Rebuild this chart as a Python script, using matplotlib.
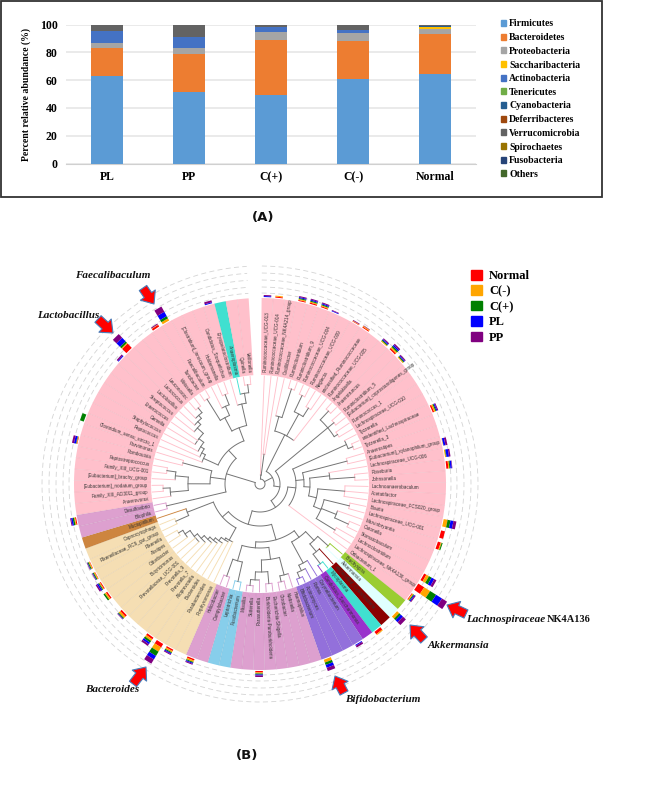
import numpy as np
import matplotlib
matplotlib.use("Agg")
import matplotlib.pyplot as plt
from matplotlib.patches import Patch, Rectangle

# ---------------- data: panel A ----------------
GROUPS_A = ["PL", "PP", "C(+)", "C(-)", "Normal"]
PHYLA = ["Firmicutes", "Bacteroidetes", "Proteobacteria", "Saccharibacteria", "Actinobacteria",
         "Tenericutes", "Cyanobacteria", "Deferribacteres", "Verrucomicrobia", "Spirochaetes",
         "Fusobacteria", "Others"]
PHYLA_COLORS = ["#5B9BD5", "#ED7D31", "#A5A5A5", "#FFC000", "#4472C4", "#70AD47",
                "#255E91", "#9E480E", "#636363", "#997300", "#264478", "#43682B"]
FIRMICUTES = [63.0, 51.5, 49.5, 60.6, 64.2]
BACTEROIDETES = [20.0, 27.1, 39.7, 27.4, 28.8]
PROTEOBACTERIA = [3.5, 4.6, 5.5, 5.8, 4.1]
SACCHARIBACTERIA = [0.0, 0.0, 0.3, 0.2, 0.9]
ACTINOBACTERIA = [8.7, 8.1, 3.3, 2.2, 0.2]
TENERICUTES = [0.0, 0.0, 0.0, 0.0, 0.2]
CYANOBACTERIA = [0.0, 0.0, 0.0, 0.0, 1.0]
DEFERRIBACTERES = [0.0, 0.0, 0.0, 0.0, 0.0]
VERRUCOMICROBIA = [4.5, 8.2, 1.5, 3.6, 0.2]
SPIROCHAETES = [0.0, 0.0, 0.0, 0.0, 0.0]
FUSOBACTERIA = [0.0, 0.0, 0.0, 0.0, 0.0]
OTHERS = [0.3, 0.5, 0.2, 0.2, 0.4]
PHYLA_VALUES = [FIRMICUTES, BACTEROIDETES, PROTEOBACTERIA, SACCHARIBACTERIA, ACTINOBACTERIA,
                TENERICUTES, CYANOBACTERIA, DEFERRIBACTERES, VERRUCOMICROBIA, SPIROCHAETES,
                FUSOBACTERIA, OTHERS]

# ---------------- data: panel B ----------------
GROUPS_B = ["Normal", "C(-)", "C(+)", "PL", "PP"]
GROUP_COLORS = ["#FF0000", "#FFA500", "#008000", "#0000FF", "#800080"]
# (clade colour, taxa listed clockwise from the top)
CLADES = [
    ("#FFC0CB", ["Ruminococcaceae_UCG-013", "Ruminococcaceae_UCG-014", "Ruminococcaceae_NK4A214_group",
                 "Oscillibacter", "Ruminiclostridium", "Ruminiclostridium_9", "Ruminococcaceae_UCG-004",
                 "Ruminococcaceae_UCG-009", "Neglecta", "unclassified_Ruminococcaceae",
                 "Ruminococcaceae_UCG-005", "Angelakisella", "Anaerotruncus", "Ruminiclostridium_5",
                 "[Eubacterium]_coprostanoligenes_group", "Ruminococcus_1", "Lachnospiraceae_UCG-010",
                 "Tyzzerella", "unidentified_Lachnospiraceae", "Tyzzerella_3", "Anaerostipes",
                 "[Eubacterium]_xylanophilum_group", "Lachnospiraceae_UCG-006", "Roseburia", "Johnsonella",
                 "Lachnoanaerobaculum", "Acetatifactor", "Lachnospiraceae_FCS020_group", "Blautia",
                 "Lachnospiraceae_UCG-001", "Marvinbryantia", "Catonella", "Stomatobaculum",
                 "Lachnoclostridium", "Lachnospiraceae_NK4A136_group", "Oribacterium_1"]),
    ("#9ACD32", ["Brachyspira"]),
    ("#E0FFFF", ["Akkermansia"]),
    ("#8B0000", ["unclassified_Cyanobacteria"]),
    ("#40E0D0", ["Mycoplasma"]),
    ("#9932CC", ["Candidatus_Saccharimonas"]),
    ("#9370DB", ["Corynebacterium", "Rothia", "Actinomyces", "Bifidobacterium"]),
    ("#DDA0CF", ["Haemophilus", "Klebsiella", "Citrobacter", "Escherichia-Shigella",
                 "Burkholderia-Paraburkholderia", "Parasutterella", "Sutterella", "Massilia"]),
    ("#87CEEB", ["Fusobacterium", "Leptotrichia"]),
    ("#DDA0CF", ["Campylobacter", "Helicobacter"]),
    ("#F5DEB3", ["Porphyromonas", "Parabacteroides", "Bacteroides", "Alloprevotella", "Prevotella_7",
                 "Prevotella_9", "Prevotellaceae_UCG-001", "Butyricimonas", "Odoribacter", "Alistipes",
                 "Rikenella", "Rikenellaceae_RC9_gut_group", "Capnocytophaga"]),
    ("#CD853F", ["Mucispirillum"]),
    ("#DDA0CF", ["Bilophila", "Desulfovibrio"]),
    ("#FFC0CB", ["Anaerovorax", "Family_XIII_AD3011_group", "[Eubacterium]_nodatum_group",
                 "[Eubacterium]_brachy_group", "Family_XIII_UCG-001", "Peptostreptococcus", "Romboutsia",
                 "Parvimonas", "Clostridium_sensu_stricto_1", "Peptococcus", "Staphylococcus", "Gemella",
                 "Enterococcus", "Streptococcus", "Lactobacillus", "Lactococcus", "Leuconostoc", "Weissella",
                 "Turicibacter", "Faecalibaculum", "[Clostridium]_innocuum_group", "Holdemanella",
                 "Candidatus_Stoquefichus", "Erysipelatoclostridium"]),
    ("#40E0D0", ["Anaeroplasma"]),
    ("#FFC0CB", ["Quinella", "Veillonella"]),
]
# tree: (node radius, [children]); an integer child is a taxon index
SUB_TOP = (9, [0, (30, [1, 2])])
SUB_RUM_A = (55, [(70, [3, (100, [4, 5])]), (80, [(98, [6, 7]), (90, [8, 9])]), 10])
SUB_RUM_B = (88, [(100, [11, 12]), (96, [13, 14]), (92, [15, 16])])
SUB_LACH = (36, [(95, [17, (100, [18, 19])]),
                 (44, [(90, [20, 21]),
                       (50, [(70, [22, (95, [23, 24])]),
                             (58, [(85, [25, 26, 27]),
                                   (66, [(92, [28, 29]), (82, [30, (97, [31, 32])]), (88, [33, 34])])])])]),
                 35])
SUB_SMALL = (78, [(92, [36, 37]), (88, [38, (100, [39, 40])])])
SUB_ACTINO = (90, [41, (96, [42, (102, [43, 44])])])
SUB_PROTEO = (76, [(94, [45, (100, [46, 47])]), (88, [(100, [48, 49]), (96, [50, (102, [51, 52])])])])
SUB_FUSO = (80, [(100, [53, 54]), (98, [55, 56])])
SUB_MID = (58, [(66, [SUB_SMALL, SUB_ACTINO]), (64, [SUB_PROTEO, SUB_FUSO])])
SUB_BACT = (50, [(64, [57, (66, [58, (70, [59, (73, [60, (76, [61, (80, [62, (84, [63, 64, (90, [65, (95, [66, 67])])])])])])])])]),
                 (78, [(92, [68, 69]), 70])])
SUB_PLUM = (68, [(96, [71, 72])])
SUB_CLOS = (50, [(72, [(90, [73, (97, [74, 75])]), (85, [76, (94, [77, 78])])]), (80, [79, 80])])
SUB_LACTO = (62, [81, (66, [82, (70, [83, (76, [84, 85, (84, [86, (88, [87, (92, [88, (98, [89, 90])])])])])])])])
SUB_ERYS = (60, [(75, [(100, [91, 92]), (85, [93, (96, [94, 95])])]), (82, [96, (92, [97, (100, [98, 99])])])])
TREE = (5, [SUB_TOP,
            (14, [SUB_RUM_A, (20, [SUB_RUM_B, (28, [SUB_LACH, (42, [SUB_MID, SUB_BACT])])])]),
            (35, [SUB_PLUM, SUB_CLOS, (46, [SUB_LACTO, SUB_ERYS])])])
# marker lengths per group (Normal, C(-), C(+), PL, PP) keyed by taxon index
HEAT = {0: (0, 0, 0, 1, 1), 1: (1, 1, 0, 0, 0), 3: (1, 1, 1, 1, 1), 4: (1.2, 1, 1, 1, 1), 5: (1, 1, 1, 1, 1),
        6: (0, 0, 0, .7, .7), 8: (.5, .5, 0, 0, .7), 9: (1, 1, 0, 0, .5), 11: (0, 1, 1, 1, 1),
        12: (1.5, 1.5, 1.5, 1.5, 1.5), 13: (0, 1, 1, 1, 1), 18: (1.5, 1.5, 1, 1, 1), 21: (0, .5, 0, 2, 2),
        22: (0, 1, .5, 2.5, 1.5), 23: (2, 1, 1, 1.5, .5), 28: (0, 4, 3, 3, 3), 29: (4, 0, 0, 0, 0),
        30: (3, 1, 1, 0, 0), 33: (2.5, 3, 3, 3, 2.5), 34: (7, 7, 7, 7, 6), 35: (.8, 1, 1, 1, 1),
        37: (0, 3, 2, 3, 4), 39: (3, 1, 0, 0, 0), 41: (0, 0, 0, 1, 2), 44: (0, 3, 2.5, 3, 3.5),
        50: (1.5, 1, 1, 1, 1.5), 56: (1.5, 1.5, 1, 1, 1), 58: (1.5, 1.5, 1, 1, 1), 59: (4, 5, 5, 4, 5),
        60: (2, 2, 2, 2, 2), 63: (2, 2, 1, .5, .5), 65: (1.5, 1.5, 1.5, 0, 0), 66: (1, 1, 1, 1.5, 1.5),
        67: (.5, 1, 1, .5, .5), 68: (.5, 1, 1, .5, .5), 72: (1, 1, 1.5, 1.5, 1), 79: (.5, .5, .5, 2, 2),
        81: (0, 0, 4, 0, 0), 87: (0, 0, 0, 1, 1.5), 88: (6, 1, 2, 5, 5), 91: (2, .5, 0, 0, 1),
        92: (0, 2.5, 2.5, 5, 6), 96: (0, 0, 0, 1, 2)}
RING_RADII = [191, 197, 204, 211, 218]
W, H = 652, 794

SERIF = "Liberation Serif"
fig = plt.figure(figsize=(W / 100, H / 100), dpi=100, facecolor="white")

# ---------------- panel A ----------------
axA = fig.add_axes([66 / W, (H - 163.5) / H, 410 / W, 138.8 / H])
x = np.arange(len(GROUPS_A))
bottom = np.zeros(len(GROUPS_A))
handles = []
for name, col, vals in zip(PHYLA, PHYLA_COLORS, PHYLA_VALUES):
    axA.bar(x, vals, 0.4, bottom=bottom, color=col, zorder=3)
    bottom += np.array(vals)
    handles.append(Patch(color=col, label=name))
axA.set_xlim(-0.5, 4.5)
axA.set_ylim(0, 100)
axA.set_xticks(x, GROUPS_A)
axA.set_yticks(range(0, 101, 20))
axA.grid(axis="y", color="#e6e6e6", lw=1.2, zorder=0)
axA.set_axisbelow(True)
for s in ["top", "left", "right"]:
    axA.spines[s].set_visible(False)
axA.spines["bottom"].set_color("#d0d0d0")
axA.tick_params(length=0, labelsize=8.5)
axA.tick_params(axis="x", pad=5.5)
axA.tick_params(axis="y", pad=6)
for t in axA.get_xticklabels() + axA.get_yticklabels():
    t.set_fontfamily(SERIF)
    t.set_fontweight("bold")
axA.set_ylabel("Percent relative abundance (%)", fontfamily=SERIF, fontweight="bold", fontsize=7, labelpad=6)
axA.legend(handles=handles, loc="upper left", bbox_to_anchor=(501 / W, (H - 19.5) / H),
           bbox_transform=fig.transFigure, frameon=False, borderpad=0, borderaxespad=0,
           labelspacing=0.48, handlelength=0.55, handleheight=0.55, handletextpad=0.3,
           prop={"family": SERIF, "weight": "bold", "size": 7})

# ---------------- panel B: circular tree ----------------
CX, CY, RMAX = 260, 484, 230
axB = fig.add_axes([(CX - RMAX) / W, (H - CY - RMAX) / H, 2 * RMAX / W, 2 * RMAX / H], projection="polar")
axB.set_theta_zero_location("N")
axB.set_theta_direction(-1)
axB.set_rlim(0, RMAX)
axB.axis("off")

taxa, colors = [], []
for col, names in CLADES:
    taxa += names
    colors += [col] * len(names)
START, STEP = 0.5, 3.56
angle = lambda i: START + (i + 0.5) * STEP
R_IN, R_OUT = 109, 186

for i, (name, col) in enumerate(zip(taxa, colors)):
    a = angle(i)
    axB.bar(np.radians(a), R_OUT - R_IN, np.radians(STEP), bottom=R_IN, color=col, lw=0, zorder=1)
    if i < len(taxa) - 1:
        e = np.radians(a + STEP / 2)
        axB.plot([e, e], [R_IN, R_OUT], color="black", alpha=0.05, lw=0.5, zorder=2)
    if a < 180:
        rot, ha = 90 - a, "left"
    else:
        rot, ha = 270 - a, "right"
    axB.text(np.radians(a), 112, name, rotation=rot, rotation_mode="anchor", ha=ha, va="center",
             fontsize=3.3, fontfamily="Liberation Sans", color="#333333", zorder=5)

th = np.radians(np.linspace(START, START + STEP * len(taxa), 400))
for r in RING_RADII:
    axB.plot(th, np.full_like(th, r), color="#d4d4d4", lw=0.6, dashes=(6, 4), zorder=1)

DARK = "#747474"


def draw(node):
    """Draw a subtree and return the angle of its node."""
    if isinstance(node, (int, np.integer)):
        return angle(node)
    r, kids = node
    info = []
    for k in kids:
        info.append((k, draw(k)))
    angs = [a for _, a in info]
    all_leaves = all(isinstance(k, int) for k in kids)
    arc_col = colors[kids[0]] if all_leaves else DARK
    t = np.radians(np.linspace(min(angs), max(angs), 60))
    axB.plot(t, np.full_like(t, r), color=arc_col, lw=0.7, zorder=3, solid_capstyle="round")
    for k, a in info:
        if isinstance(k, int):
            axB.plot(np.radians([a, a]), [r, 108], color=colors[k], lw=0.65, zorder=3)
        else:
            axB.plot(np.radians([a, a]), [r, k[0]], color=DARK, lw=0.7, zorder=3)
    return (min(angs) + max(angs)) / 2


draw(TREE)

for i, lens in HEAT.items():
    a = np.radians(angle(i))
    base = 187
    for v, col in zip(lens, GROUP_COLORS):
        if v > 0:
            axB.bar(a, v, np.radians(2.3), bottom=base, color=col, lw=0, zorder=4)
            base += v

# ---------------- overlay: frame, captions, arrows, labels ----------------
ov = fig.add_axes([0, 0, 1, 1], facecolor="none")
ov.set_xlim(0, W)
ov.set_ylim(H, 0)
ov.axis("off")
ov.add_patch(Rectangle((0.5, 0.5), 601, 196, fill=False, ec="#333333", lw=1.3))
ov.text(263, 218, "(A)", fontsize=9.5, fontweight="bold", fontfamily="DejaVu Sans", ha="center", va="center", color="#111111")
ov.text(247, 756, "(B)", fontsize=9.5, fontweight="bold", fontfamily="DejaVu Sans", ha="center", va="center", color="#111111")

ARROWS = [((143, 288), (154, 304)), ((98, 319), (113, 333)), ((133, 684), (146, 667)),
          ((344, 693), (335, 676)), ((424, 640), (410, 625)), ((466, 614), (447, 605))]
for tail, tip in ARROWS:
    ov.annotate("", xy=tip, xytext=tail,
                arrowprops=dict(arrowstyle="simple,head_length=0.6,head_width=1.0,tail_width=0.5",
                                mutation_scale=13, shrinkA=0, shrinkB=0, fc="#FF0000", ec="#4A7EBB", lw=0.8))
LABELS = [("Faecalibaculum", 75, 276), ("Lactobacillus", 37, 316), ("Bacteroides", 85, 689),
          ("Bifidobacterium", 345, 700), ("Akkermansia", 428, 646), ("Lachnospiraceae", 466, 619)]
for s, lx, ly in LABELS:
    ov.text(lx, ly, s, fontfamily=SERIF, fontstyle="italic", fontweight="bold", fontsize=8, ha="left", va="center", color="#111111")
ov.text(547, 619, "NK4A136", fontfamily=SERIF, fontweight="bold", fontsize=7.5, ha="left", va="center", color="#111111")

ov.legend(handles=[Patch(color=c, label=g) for c, g in zip(GROUP_COLORS, GROUPS_B)],
          loc="upper left", bbox_to_anchor=(471 / W, (H - 270) / H), bbox_transform=fig.transFigure,
          frameon=False, borderpad=0, borderaxespad=0, labelspacing=0.26, handlelength=0.85,
          handleheight=0.8, handletextpad=0.6, prop={"family": SERIF, "weight": "bold", "size": 9})

fig.savefig("out.png", dpi=100)
